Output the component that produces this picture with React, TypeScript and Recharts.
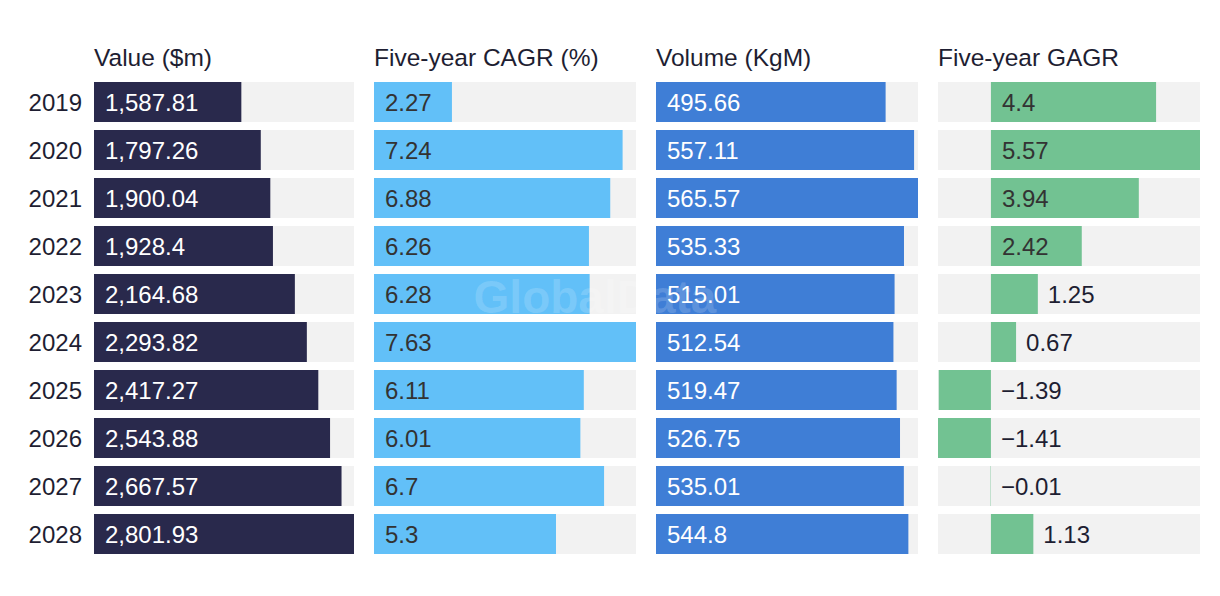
import { BarChart, Bar, XAxis, YAxis, LabelList } from "recharts";

const years = ["2019", "2020", "2021", "2022", "2023", "2024", "2025", "2026", "2027", "2028"];
const valueM = [1587.81, 1797.26, 1900.04, 1928.4, 2164.68, 2293.82, 2417.27, 2543.88, 2667.57, 2801.93];
const cagr = [2.27, 7.24, 6.88, 6.26, 6.28, 7.63, 6.11, 6.01, 6.7, 5.3];
const volume = [495.66, 557.11, 565.57, 535.33, 515.01, 512.54, 519.47, 526.75, 535.01, 544.8];
const gagr = [4.4, 5.57, 3.94, 2.42, 1.25, 0.67, -1.39, -1.41, -0.01, 1.13];

const rows = years.map((year, i) => ({
    year,
    value: valueM[i],
    cagr: cagr[i],
    volume: volume[i],
    gagr: gagr[i],
}));

const FONT = "'Liberation Sans', Arial, sans-serif";
const H = 596;
const TOP = 78;
const BOTTOM = 38;

const fmt = (v: number) => {
    const s = Math.abs(v).toLocaleString("en-US", { maximumFractionDigits: 2 });
    return v < 0 ? "\u2212" + s : s;
};

type PanelProps = {
    title: string,
    dataKey: string,
    color: string,
    textColor: string,
    left: number,
    width: number,
    withYears?: boolean,
    signed?: boolean,
}

function Panel(props: PanelProps) {
    const { title, dataKey, color, textColor, left, width, withYears, signed } = props;
    const axisW = withYears ? 94 : 0;

    const renderLabel = (p: any) => {
        const x = Number(p.x), w = Number(p.width), y = Number(p.y), h = Number(p.height);
        const v = Number(p.value);
        const text = fmt(v);
        const textW = text.length * 13.3;
        let tx = x + 11;
        let fill = textColor;
        if (signed) {
            const end = Math.max(x, x + w);
            const start = Math.min(x, x + w);
            if (v <= 0 || end - start < textW + 20) {
                // bar too short (or negative): put the label right of it
                tx = end + 10;
                fill = "#1e1e32";
            } else {
                tx = start + 11;
            }
        }
        return (
            <text x={tx} y={y + h / 2} dy="0.36em" fill={fill} fontSize={24} fontFamily={FONT}>
                {text}
            </text>
        );
    };

    return (
        <div style={{ position: "absolute", left, top: 0, width: width + axisW, height: H }}>
            <div style={{
                position: "absolute", left: axisW, top: 44, fontSize: 24.5, lineHeight: "28px",
                fontFamily: FONT, color: "#1e1e32", whiteSpace: "nowrap",
            }}>
                {title}
            </div>
            <BarChart
                width={width + axisW}
                height={H}
                data={rows}
                layout="vertical"
                margin={{ top: TOP, bottom: BOTTOM, left: 0, right: 0 }}
            >
                <XAxis type="number" hide domain={signed ? ["dataMin", "dataMax"] : [0, "dataMax"]} />
                <YAxis
                    type="category"
                    dataKey="year"
                    hide={!withYears}
                    width={axisW}
                    axisLine={false}
                    tickLine={false}
                    tickSize={12}
                    tickMargin={0}
                    tick={{ fill: "#1e1e32", fontSize: 24, fontFamily: FONT }}
                />
                <Bar
                    dataKey={dataKey}
                    fill={color}
                    barSize={40}
                    background={{ fill: "#f2f2f2" }}
                    isAnimationActive={false}
                >
                    <LabelList dataKey={dataKey} content={renderLabel} />
                </Bar>
            </BarChart>
        </div>
    );
}

export default function App() {
    return (
        <div style={{ position: "absolute", left: 0, top: 0, width: 1220, height: H, background: "#fff", overflow: "hidden" }}>
            <Panel title="Value ($m)" dataKey="value" color="#29294c" textColor="#ffffff" left={0} width={260} withYears />
            <Panel title="Five-year CAGR (%)" dataKey="cagr" color="#62c0f8" textColor="#333333" left={374} width={262} />
            <Panel title="Volume (KgM)" dataKey="volume" color="#3f7ed6" textColor="#ffffff" left={656} width={262} />
            <Panel title="Five-year GAGR" dataKey="gagr" color="#72c292" textColor="#333333" left={938} width={262} signed />
            <div style={{
                position: "absolute", left: 460, top: 270, width: 270, textAlign: "center",
                fontFamily: FONT, fontWeight: 700, fontSize: 46, color: "rgba(255,255,255,0.16)",
                pointerEvents: "none", whiteSpace: "nowrap",
            }}>
                GlobalData
            </div>
        </div>
    );
}
